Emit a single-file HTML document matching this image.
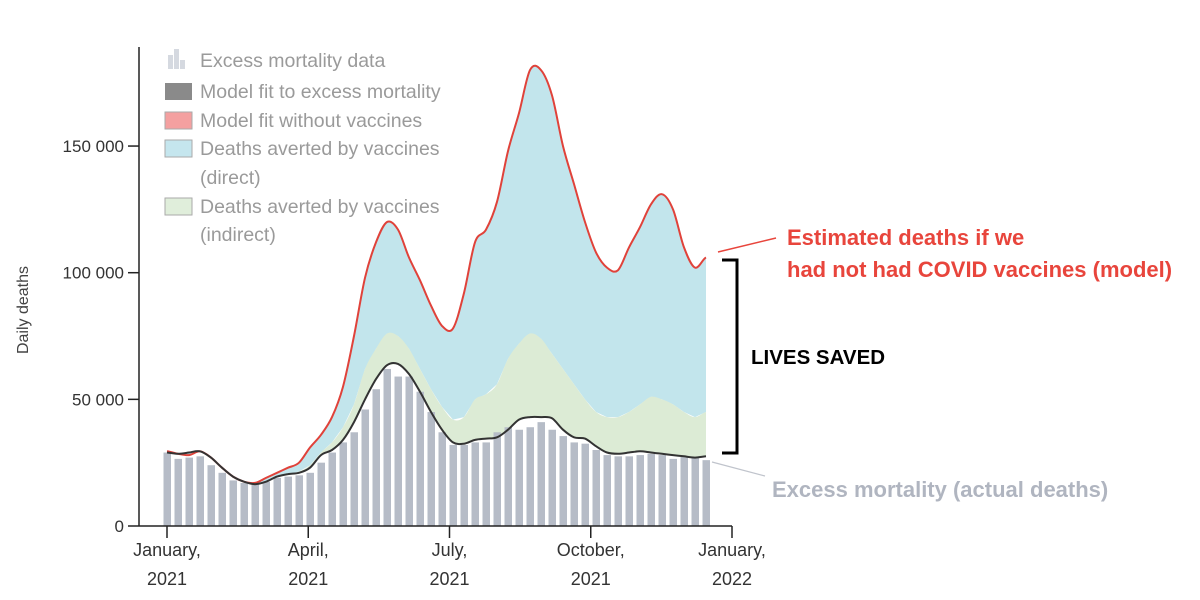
<!DOCTYPE html>
<html><head><meta charset="utf-8"><style>
html,body{margin:0;padding:0;background:#fff;width:1200px;height:600px;overflow:hidden}
svg text{font-family:"Liberation Sans",sans-serif}
</style></head><body>
<svg id="chart" width="1200" height="600" xmlns="http://www.w3.org/2000/svg">
<g id="areas"></g>
<g id="bars"></g>
<g id="lines"></g>
<g id="axes"></g>
<g font-size="19.5" fill="#9a9a9a">
  <g><rect x="168" y="55" width="5" height="14" fill="#d5d9e0"/><rect x="174" y="49" width="5" height="20" fill="#d5d9e0"/><rect x="180" y="60" width="5" height="9" fill="#d5d9e0"/><text x="200" y="67">Excess mortality data</text></g>
  <g><rect x="165" y="83" width="27" height="17" fill="#8a8a8a"/><text x="200" y="98">Model fit to excess mortality</text></g>
  <g><rect x="165" y="112" width="27" height="17" fill="#f4a0a0" stroke="#aaa"/><text x="200" y="127">Model fit without vaccines</text></g>
  <g><rect x="165" y="140" width="27" height="17" fill="#c5e6ee" stroke="#aaa"/><text x="200" y="155">Deaths averted by vaccines</text><text x="200" y="184">(direct)</text></g>
  <g><rect x="165" y="198" width="27" height="17" fill="#e0eedb" stroke="#aaa"/><text x="200" y="213">Deaths averted by vaccines</text><text x="200" y="241">(indirect)</text></g>
</g>
<text transform="translate(28,310) rotate(-90)" text-anchor="middle" font-size="16" fill="#444">Daily deaths</text>
<g font-weight="bold" font-size="22">
  <line x1="718" y1="252" x2="776" y2="238" stroke="#e8453c" stroke-width="1.5"/>
  <text x="787" y="245" fill="#e8453c">Estimated deaths if we</text>
  <text x="787" y="277" fill="#e8453c">had not had COVID vaccines (model)</text>
  <path d="M722 260 H737 V453 H722" fill="none" stroke="#000" stroke-width="3"/>
  <text x="751" y="364" fill="#000" font-size="20.5">LIVES SAVED</text>
  <line x1="712" y1="462" x2="765" y2="476" stroke="#c0c4cc" stroke-width="1.2"/>
  <text x="772" y="497" fill="#b0b5c0">Excess mortality (actual deaths)</text>
</g>
</svg>
<script>
const bars=[29,26.5,27,27.5,24,21,18,17,16.5,17.5,19,19.5,20,21,25,29,33,37,46,54,62,59,59,53,45,37,32,32,33,33,37,39,38,39,41,38,35.5,33,32.5,30,28,27.5,27.5,28,28.5,28,26.5,27.5,27,26];
const fit=[29,28.5,29,29.5,27,23,19.5,17.5,16.5,17.5,19.5,20.5,21,23,28,30,34,41,50,58,63.5,64,60,53,45,38,33,32.5,34,34.5,35,38,42,43,43,42.5,38,35,34.5,31.5,29,28.5,29,29.5,29,28.5,28,27.5,27,27.5];
const indirect=[29,28.5,29,29.5,27,23,19.5,17.5,16.5,17.5,19.5,20.5,21.5,24,29,33,39,48,62,70,76,75,70,62,54,47,42,43,50,52,56,66,72,76,74,68,62,56,50,45,43,43,45,48,51,50,48,45,43,45];
const noVax=[29.5,28.5,28,29.5,27,23,19.5,17.5,17,19,21,23,25,31,36,43,55,75,98,112,120,117,106,97,87,79,78,92,112,117,128,148,163,180,180,170,150,135,120,108,102,101,110,118,127,131,125,110,102,106];
const yTicks=[0,50000,100000,150000];
const yTickLabels=["0","50 000","100 000","150 000"];
const xTicks=[0,3,6,9,12];
const xTickLabels=[["January,","2021"],["April,","2021"],["July,","2021"],["October,","2021"],["January,","2022"]];
const NS="http://www.w3.org/2000/svg";
const y=v=>526-v*0.002533;
const xw=i=>167+i*11;
const xm=m=>167+m*(732-167)/12;
function mk(t,a,p){const e=document.createElementNS(NS,t);for(const k in a)e.setAttribute(k,a[k]);p.appendChild(e);return e;}
function smooth(arr){let d='M'+xw(0)+' '+y(arr[0]*1000);for(let i=1;i<arr.length;i++){const x0=xw(i-1),x1=xw(i),y0=y(arr[i-1]*1000),y1=y(arr[i]*1000);const p0=i>1?y(arr[i-2]*1000):y0,p2=i<arr.length-1?y(arr[i+1]*1000):y1;d+=` C${x0+11/3} ${(y0+(y1-p0)/6).toFixed(1)} ${x1-11/3} ${(y1-(p2-y0)/6).toFixed(1)} ${x1} ${y1.toFixed(1)}`;}return d;}
function rev(arr){let d='';for(let i=arr.length-1;i>=0;i--)d+=' L'+xw(i)+' '+y(arr[i]*1000).toFixed(1);return d;}
const A=document.getElementById('areas'),B=document.getElementById('bars'),L=document.getElementById('lines'),X=document.getElementById('axes');
let e=mk('path',{d:smooth(noVax)+rev(indirect)+' Z',fill:'#c2e5ec'},A);


e=mk('path',{d:smooth(indirect)+rev(fit)+' Z',fill:'#dcebd5'},A);


bars.forEach((v,i)=>{const r=mk('rect',{x:xw(i)-3.5,y:y(v*1000),width:7.5,height:526-y(v*1000),fill:'#b6bcc7'},B);

});
e=mk('path',{d:smooth(noVax),fill:'none',stroke:'#e0423a','stroke-width':2},L);


e=mk('path',{d:smooth(fit),fill:'none',stroke:'#333','stroke-width':2},L);


mk('line',{x1:139,y1:47,x2:139,y2:526,stroke:'#222','stroke-width':1.5},X);
mk('line',{x1:139,y1:526,x2:732,y2:526,stroke:'#222','stroke-width':1.5},X);
yTicks.forEach((v,i)=>{mk('line',{x1:128,x2:139,y1:y(v),y2:y(v),stroke:'#222','stroke-width':1.5},X);
const t=mk('text',{x:124,y:y(v)+6,'text-anchor':'end','font-size':17,fill:'#333'},X);t.textContent=yTickLabels[i];

});
xTicks.forEach((m,i)=>{mk('line',{x1:xm(m),x2:xm(m),y1:526,y2:538,stroke:'#222','stroke-width':1.5},X);
xTickLabels[i].forEach((s,j)=>{const t=mk('text',{x:xm(m),y:556+j*29,'text-anchor':'middle','font-size':18,fill:'#333'},X);t.textContent=s;

});});
</script>
</body></html>
